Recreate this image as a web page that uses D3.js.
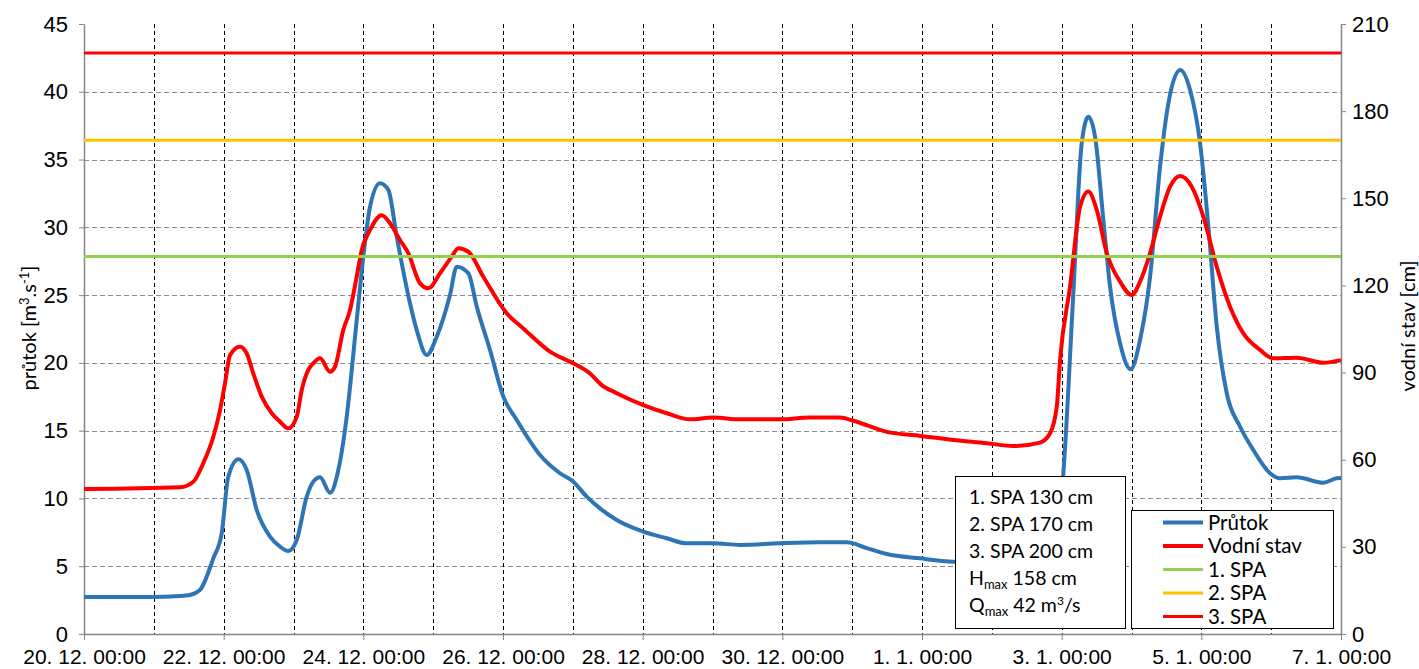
<!DOCTYPE html>
<html>
<head>
<meta charset="utf-8">
<script src="https://cdn.jsdelivr.net/npm/d3@7"></script>
<style>
  body { margin: 0; background: #fff; }
  svg { display: block; }
</style>
</head>
<body>
<script>
// days since 20. 12. 00:00 and values
var prutokDays = [0, 0.945, 1.375, 1.518, 1.661, 1.852, 1.972, 2.066, 2.21, 2.33, 2.473, 2.664, 2.807, 2.926, 3.046,
  3.189, 3.284, 3.38, 3.523, 3.642, 3.762, 3.905, 4.0, 4.096, 4.239, 4.358, 4.478, 4.668, 4.764, 4.908, 5.051,
  5.241, 5.337, 5.504, 5.624, 5.814, 6.005, 6.197, 6.53, 6.817, 7.007, 7.199, 7.389, 7.629, 8.009, 8.345, 8.631,
  9.012, 9.394, 9.967, 10.54, 10.922, 11.21, 11.495, 11.972, 12.449, 13.118, 13.762, 13.905, 14.024, 14.167,
  14.287, 14.382, 14.478, 14.597, 14.693, 14.836, 14.989, 15.122, 15.266, 15.409, 15.528, 15.696, 15.839,
  15.982, 16.101, 16.221, 16.364, 16.555, 16.745, 16.984, 17.127, 17.366, 17.747, 17.939, 18.0];
var prutokQ = [2.73, 2.73, 2.8, 2.88, 3.25, 5.58, 7.43, 11.6, 12.89, 12.1, 9.15, 7.18, 6.44, 6.12, 6.93,
  10.13, 11.24, 11.56, 10.42, 12.1, 16.03, 23.15, 27.83, 31.52, 33.25, 32.76, 29.31, 24.4, 22.43, 20.58, 21.93,
  25.01, 27.1, 26.61, 24.15, 20.95, 17.51, 15.79, 13.21, 11.86, 11.24, 10.13, 9.27, 8.41, 7.55, 7.06, 6.69,
  6.69, 6.57, 6.69, 6.76, 6.76, 6.34, 5.9, 5.58, 5.33, 5.24, 5.16, 6.57, 11.86, 25.13,
  36.2, 38.16, 36.69, 30.54, 25.62, 21.45, 19.53, 21.69, 26.36, 34.47, 39.15, 41.61, 40.13,
  36.2, 30.05, 22.67, 17.76, 15.29, 13.57, 11.86, 11.49, 11.56, 11.16, 11.49, 11.51];

var stavDays = [0, 1.375, 1.565, 1.708, 1.852, 1.948, 2.019, 2.091, 2.234, 2.33, 2.424, 2.545, 2.688, 2.807,
  2.926, 3.046, 3.118, 3.212, 3.284, 3.38, 3.523, 3.594, 3.713, 3.809, 3.905, 3.977, 4.096, 4.263, 4.382,
  4.525, 4.644, 4.812, 4.931, 5.098, 5.266, 5.36, 5.504, 5.718, 6.053, 6.291, 6.673, 7.007, 7.246, 7.414,
  7.629, 8.009, 8.345, 8.678, 9.012, 9.394, 9.967, 10.397, 10.826, 11.017, 11.495, 11.972, 12.449, 12.927,
  13.308, 13.69, 13.834, 13.93, 13.977, 14.12, 14.264, 14.382, 14.502, 14.646, 14.836, 15.003, 15.122,
  15.266, 15.409, 15.552, 15.696, 15.863, 16.029, 16.221, 16.411, 16.602, 16.841, 17.031, 17.366, 17.747, 18.0];
var stavH = [49.9, 50.5, 52.4, 58.8, 67.9, 77.1, 86.3, 96.0, 98.9, 96.6, 89.7, 81.7, 76.0, 73.1,
  70.8, 74.8, 84.0, 90.9, 93.2, 94.9, 90.3, 92.0, 104.7, 111.5, 123.0, 132.2, 139.1, 144.2, 141.4,
  135.6, 131.1, 120.7, 119.0, 124.2, 129.9, 132.8, 131.6, 123.0, 110.4, 105.2, 97.2, 93.2, 89.7, 85.7,
  82.9, 78.8, 76.0, 73.9, 74.5, 73.9, 73.9, 74.5, 74.5, 73.4, 69.6, 68.2, 66.8, 65.7,
  64.7, 65.9, 69.1, 78.3, 94.3, 119.6, 147.1, 152.3, 146.0, 131.1, 121.3, 116.7, 121.3,
  131.1, 143.7, 154.0, 157.7, 154.0, 143.7, 126.4, 112.7, 103.5, 97.8, 94.9, 95.1, 93.4, 94.3];

var spaNames = ["1. SPA", "2. SPA", "3. SPA"];
var spaLevels = [130, 170, 200];
var spaColors = ["#92d050", "#ffc000", "#ff0000"];

var boxLines = ["1. SPA 130 cm", "2. SPA 170 cm", "3. SPA 200 cm"];
var hMax = "158 cm";
var qMax = "42 m";

var leftTicks = [0, 5, 10, 15, 20, 25, 30, 35, 40, 45];
var rightTicks = [0, 30, 60, 90, 120, 150, 180, 210];

var W = 1419, H = 669;
var plotL = 84, plotR = 1341, plotT = 24, plotB = 634;

var start = Date.UTC(2019, 11, 20);
function toDate(d) { return new Date(start + d * 864e5); }

var x = d3.scaleUtc().domain([toDate(0), toDate(18)]).range([plotL, plotR]);
var yL = d3.scaleLinear().domain([0, 45]).range([plotB, plotT]);
var yR = d3.scaleLinear().domain([0, 210]).range([plotB, plotT]);

var svg = d3.select("body").append("svg")
    .attr("width", W)
    .attr("height", H);

// grid
svg.append("g")
  .selectAll("line")
  .data(leftTicks.filter(function(t) { return t > 0 && t < 45; }))
  .enter().append("line")
    .attr("x1", plotL).attr("x2", plotR)
    .attr("y1", function(d) { return Math.round(yL(d)) + 0.5; })
    .attr("y2", function(d) { return Math.round(yL(d)) + 0.5; })
    .attr("stroke", "#8c8c8c")
    .attr("stroke-width", 1)
    .attr("stroke-dasharray", "5,3");

var days = d3.range(1, 18);
svg.append("g")
  .selectAll("line")
  .data(days)
  .enter().append("line")
    .attr("x1", function(d) { return Math.round(x(toDate(d))) + 0.5; })
    .attr("x2", function(d) { return Math.round(x(toDate(d))) + 0.5; })
    .attr("y1", plotT).attr("y2", plotB)
    .attr("stroke", "#000")
    .attr("stroke-width", 1)
    .attr("stroke-dasharray", "4,3");

// axes
var xAxis = d3.axisBottom(x)
    .tickValues(d3.range(0, 19, 2).map(toDate))
    .tickFormat(d3.utcFormat("%-d. %-m. %H:%M"))
    .tickSize(6)
    .tickSizeOuter(0);
var gx = svg.append("g")
    .attr("transform", "translate(0," + plotB + ")")
    .call(xAxis);
gx.selectAll("text")
    .attr("dy", "1.02em")
    .style("font-family", "'Liberation Sans', Arial, sans-serif")
    .style("font-size", "21px")
    .attr("fill", "#000");

var gl = svg.append("g")
    .attr("transform", "translate(" + plotL + ",0)")
    .call(d3.axisLeft(yL).tickValues(leftTicks).tickSize(5).tickSizeOuter(0).tickPadding(11));
gl.selectAll("text")
    .style("font-family", "'Liberation Sans', Arial, sans-serif")
    .style("font-size", "22px")
    .attr("fill", "#000");

var gr = svg.append("g")
    .attr("transform", "translate(" + plotR + ",0)")
    .call(d3.axisRight(yR).tickValues(rightTicks).tickSize(5).tickSizeOuter(0).tickPadding(6));
gr.selectAll("text")
    .style("font-family", "'Liberation Sans', Arial, sans-serif")
    .style("font-size", "22px")
    .attr("fill", "#000");

[gx, gl, gr].forEach(function(g) {
  g.select(".domain").attr("stroke", "#868686").attr("stroke-width", 1.5);
  g.selectAll(".tick line").attr("stroke", "#868686");
});

// axis titles
var t1 = svg.append("text")
    .attr("transform", "translate(36,328) rotate(-90)")
    .attr("text-anchor", "middle")
    .style("font-family", "Lato, 'Open Sans', sans-serif")
    .style("font-size", "20px");
t1.append("tspan").text("průtok [m");
t1.append("tspan").attr("dy", -7).style("font-size", "13px").text("3");
t1.append("tspan").attr("dy", 7).text(".s");
t1.append("tspan").attr("dy", -7).style("font-size", "13px").text("-1");
t1.append("tspan").attr("dy", 7).text("]");

svg.append("text")
    .attr("transform", "translate(1415,326) rotate(-90)")
    .attr("text-anchor", "middle")
    .style("font-family", "Lato, 'Open Sans', sans-serif")
    .style("font-size", "20px")
    .text("vodní stav [cm]");

// series
var prutok = prutokDays.map(function(d, i) { return {t: toDate(d), v: prutokQ[i]}; });
var stav = stavDays.map(function(d, i) { return {t: toDate(d), v: stavH[i]}; });

svg.append("path")
    .datum(prutok)
    .attr("fill", "none")
    .attr("stroke", "#2e75b6")
    .attr("stroke-width", 4)
    .attr("stroke-linejoin", "round")
    .attr("d", d3.line()
      .x(function(d) { return x(d.t); })
      .y(function(d) { return yL(d.v); })
      .curve(d3.curveMonotoneX));

svg.append("path")
    .datum(stav)
    .attr("fill", "none")
    .attr("stroke", "#ff0000")
    .attr("stroke-width", 4)
    .attr("stroke-linejoin", "round")
    .attr("d", d3.line()
      .x(function(d) { return x(d.t); })
      .y(function(d) { return yR(d.v); })
      .curve(d3.curveMonotoneX));

svg.append("g")
  .selectAll("line")
  .data(spaLevels)
  .enter().append("line")
    .attr("x1", x(toDate(0))).attr("x2", x(toDate(18)))
    .attr("y1", function(d) { return yR(d); })
    .attr("y2", function(d) { return yR(d); })
    .attr("stroke", function(d, i) { return spaColors[i]; })
    .attr("stroke-width", 3);

// info box
var font = "Lato, 'Open Sans', sans-serif";
svg.append("rect")
    .attr("x", 955.5).attr("y", 476.5)
    .attr("width", 170).attr("height", 152)
    .attr("fill", "#fff")
    .attr("stroke", "#000")
    .attr("stroke-width", 1);

boxLines.forEach(function(s, i) {
  svg.append("text")
      .attr("x", 969).attr("y", 504 + i * 27.2)
      .style("font-family", font)
      .style("font-size", "19.5px")
      .text(s);
});
var th = svg.append("text")
    .attr("x", 969).attr("y", 585)
    .style("font-family", font)
    .style("font-size", "19.5px");
th.append("tspan").text("H");
th.append("tspan").attr("dy", 4).style("font-size", "13px").text("max");
th.append("tspan").attr("dy", -4).text(" " + hMax);

var tq = svg.append("text")
    .attr("x", 969).attr("y", 612)
    .style("font-family", font)
    .style("font-size", "19.5px");
tq.append("tspan").text("Q");
tq.append("tspan").attr("dy", 4).style("font-size", "13px").text("max");
tq.append("tspan").attr("dy", -4).text(" " + qMax);
tq.append("tspan").attr("dy", -7).style("font-size", "12px").text("3");
tq.append("tspan").attr("dy", 7).text("/s");

// legend
var legNames = ["Průtok", "Vodní stav"].concat(spaNames);
var legColors = ["#2e75b6", "#ff0000"].concat(spaColors);
var legWidths = [4, 4, 3, 3, 3];

svg.append("rect")
    .attr("x", 1131.5).attr("y", 510.5)
    .attr("width", 202).attr("height", 118)
    .attr("fill", "#fff")
    .attr("stroke", "#000")
    .attr("stroke-width", 1);

var leg = svg.append("g")
  .selectAll("g")
  .data(legNames)
  .enter().append("g")
    .attr("transform", function(d, i) { return "translate(1163," + (522.5 + i * 23.5) + ")"; });
leg.append("line")
    .attr("x1", 0).attr("x2", 40)
    .attr("stroke", function(d, i) { return legColors[i]; })
    .attr("stroke-width", function(d, i) { return legWidths[i]; });
leg.append("text")
    .attr("x", 45).attr("dy", "0.35em")
    .style("font-family", font)
    .style("font-size", "20.5px")
    .text(function(d) { return d; });
</script>
</body>
</html>
